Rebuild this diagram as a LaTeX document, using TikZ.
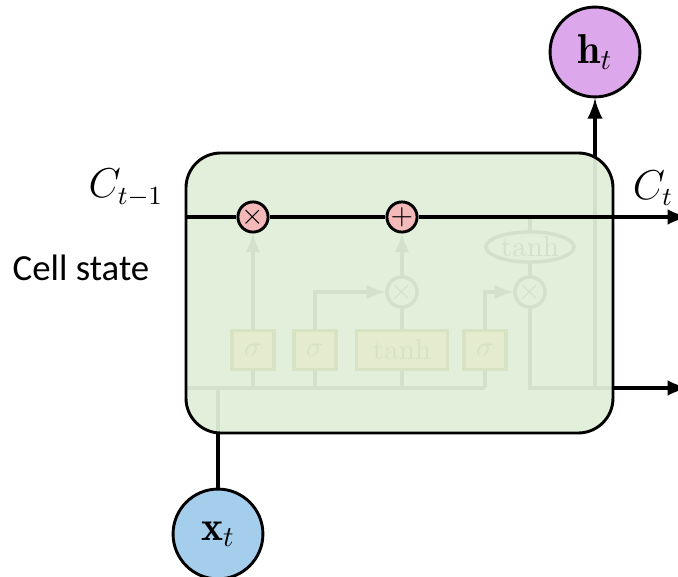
\documentclass[tikz,border=0pt]{standalone}
\usepackage{amsmath, amssymb}
\usepackage{fontspec}
\usepackage{tikz}
\usetikzlibrary{shapes.geometric}
\newfontfamily\cellfont{Carlito}

\begin{document}
\begin{tikzpicture}
		[x=0.345pt,y=-0.345pt,
		%Styles
		io/.style={circle,draw,line width=1pt,minimum size=31pt,inner sep=0pt,font=\Large},
		pointwise/.style={circle,draw,line width=1pt,fill=oppink,minimum size=10.4pt,inner sep=0pt},
		faded op/.style={circle,draw=fadedline,line width=1.2pt,fill=cellgreen,minimum size=10.4pt,inner sep=0pt,text=fadedline},
		gate/.style={draw=gateedge,line width=1.2pt,fill=gatefill,minimum width=14.5pt,minimum height=13.5pt,inner sep=0pt,text=gateedge},
		faded line/.style={fadedline,line width=1.2pt},
		state line/.style={line width=1.4pt},
		state label/.style={font=\fontsize{13.5}{16}\selectfont}
		]
		
		%Colors
		\definecolor{cellgreen}{RGB}{226,239,218}
		\definecolor{fadedline}{RGB}{211,224,203}
		\definecolor{gatefill}{RGB}{229,236,205}
		\definecolor{gateedge}{RGB}{216,227,195}
		\definecolor{oppink}{RGB}{244,185,185}
		\definecolor{xblue}{RGB}{165,206,236}
		\definecolor{hpurple}{RGB}{221,168,235}
		
		\useasboundingbox (0,0) rectangle (678,577);
		
		%Outer connections
		\node[io,fill=xblue] (xt) at (218,534) {$\mathbf{x}_t$};
		\node[io,fill=hpurple] (ht) at (595,52) {$\mathbf{h}_t$};
		\coordinate (bus) at (180,388);
		\coordinate (hjoin) at (595,388);
		\coordinate (hout) at (688,388);
		\coordinate (cin) at (186,217);
		\coordinate (cout) at (688,217);
		\draw[state line] (xt) -- (xt |- bus);
		\draw[state line,-latex] (hjoin) -- (ht);
		\draw[state line,-latex] (hjoin) -- (hout);
		
		%The cell
		\fill[cellgreen,rounded corners=12pt] (186,153) rectangle (613,433);
		\node[pointwise] (forget) at (253,217) {$\times$};
		\node[pointwise] (add) at (402,217) {$+$};
		\begin{scope}
			\clip[rounded corners=12pt] (186,153) rectangle (613,433);
			\node[gate] (sigf) at (253,350) {$\sigma$};
			\node[gate] (sigi) at (315,350) {$\sigma$};
			\node[gate,minimum width=31.4pt] (cand) at (402,350) {$\tanh$};
			\node[gate] (sigo) at (485,350) {$\sigma$};
			\node[faded op] (muli) at (402,292) {$\times$};
			\node[faded op] (mulo) at (530,292) {$\times$};
			\node[ellipse,draw=fadedline,line width=1.2pt,minimum width=30.4pt,minimum height=10.4pt,inner sep=0pt,text=fadedline] (squash) at (530,247) {$\tanh$};
			\draw[faded line] (bus) -- (sigo |- bus);
			\foreach \g in {sigf,sigi,cand,sigo}
				\draw[faded line] (\g) -- (\g |- bus);
			\draw[faded line] (xt) -- (xt |- bus);
			\draw[faded line] (hjoin) -- (ht);
			\draw[faded line] (hjoin) -- (hout);
			\draw[faded line,-latex] (sigf) -- (forget);
			\draw[faded line,-latex] (sigi) |- (muli);
			\draw[faded line] (cand) -- (muli);
			\draw[faded line,-latex] (muli) -- (add);
			\draw[faded line,-latex] (sigo) |- (mulo);
			\draw[faded line] (mulo) -- (squash);
			\draw[faded line] (squash) -- (squash |- add);
			\draw[faded line] (mulo) |- (hjoin);
		\end{scope}
		\draw[line width=1pt,rounded corners=12pt] (186,153) rectangle (613,433);
		
		%Cell state
		\draw[state line] (cin) -- (forget);
		\draw[state line] (forget) -- (add);
		\draw[state line,-latex] (add) -- (cout);
		
		%Labels
		\node[state label] (cprev) at (126,188) {$C_{t-1}$};
		\node[state label] (cnext) at (653,188) {$C_t$};
		\node[font=\cellfont\fontsize{12.7}{15}\selectfont] (cstate) at (81,268) {Cell state};
\end{tikzpicture}
\end{document}
